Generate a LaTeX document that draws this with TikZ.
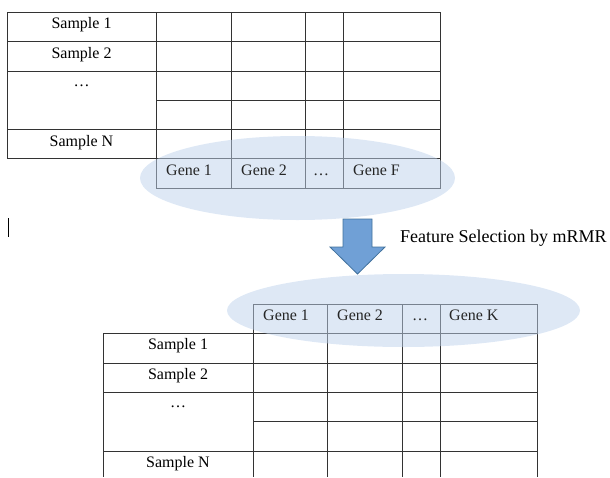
\documentclass[tikz,border=0pt]{standalone}
\usepackage{fontspec}
\setmainfont{Liberation Serif}
\usetikzlibrary{positioning}
\definecolor{blobfill}{RGB}{189,210,236}
\definecolor{arrowfill}{RGB}{112,160,214}
\definecolor{arrowline}{RGB}{65,113,156}
\begin{document}
\begin{tikzpicture}[x=1pt, y=-1pt,
    grid/.style={draw=black!80, line width=0.8pt},
    sample/.style={anchor=base, inner sep=0pt, font=\fontsize{16}{18}\selectfont},
    gene/.style={anchor=base west, inner sep=0pt, text=black!85, font=\fontsize{16}{18}\selectfont},
    blob/.style={fill=blobfill, fill opacity=0.5},
    bigarrow/.style={fill=arrowfill, draw=arrowline, line width=0.8pt}
]
    \useasboundingbox (0,0) rectangle (610,477);

    % full data table
    \draw[grid] (7,12) rectangle (440,158);
    \draw[grid] (156,158) rectangle (440,188);
    \draw[grid] (7,41) -- (440,41) (7,71) -- (440,71) (156,100) -- (440,100) (7,129) -- (440,129);
    \draw[grid] (156,12) -- (156,188) (231,12) -- (231,188) (305,12) -- (305,188) (343,12) -- (343,188);

    \node[sample] (sa1) at (81.5,28) {Sample 1};
    \node[sample] (sa2) at (81.5,58) {Sample 2};
    \node[sample] (sadots) at (81.5,86) {…};
    \node[sample] (saN) at (81.5,146) {Sample N};

    % selected table
    \draw[grid] (253,304) rectangle (537,333);
    \draw[grid] (103,333) -- (537,333) (103,363) -- (537,363) (103,392) -- (537,392) (253,421) -- (537,421) (103,451) -- (537,451);
    \draw[grid] (103,333) -- (103,477) (253,304) -- (253,477) (327,304) -- (327,477) (402,304) -- (402,477) (440,304) -- (440,477) (537,304) -- (537,477);

    \node[sample] (sb1) at (178,349) {Sample 1};
    \node[sample] (sb2) at (178,379) {Sample 2};
    \node[sample] (sbdots) at (178,407) {…};
    \node[sample] (sbN) at (178,467) {Sample N};

    % highlight of the gene rows
    \fill[blob] (297.5,178) ellipse [x radius=157.5, y radius=42];
    \fill[blob] (403.5,310.5) ellipse [x radius=176.5, y radius=36.5];

    \node[gene] (ga1) at (166,175) {Gene 1};
    \node[gene] (ga2) at (241,175) {Gene 2};
    \node[gene] (gadots) at (313,175) {…};
    \node[gene] (gaF) at (353,175) {Gene F};
    \node[gene] (gb1) at (263,320) {Gene 1};
    \node[gene] (gb2) at (337,320) {Gene 2};
    \node[gene] (gbdots) at (412,320) {…};
    \node[gene] (gbK) at (449,320) {Gene K};

    % cursor mark
    \draw[line width=1pt] (8,218) -- (8,237);

    % selection step
    \draw[bigarrow] (343,219) -- (372,219) -- (372,247) -- (385,247) -- (357.5,274) -- (330,247) -- (343,247) -- cycle;
    \node[anchor=base west, inner sep=0pt, font=\fontsize{18}{20}\selectfont] (fsel) at (400,242) {Feature Selection by mRMR};
\end{tikzpicture}
\end{document}
